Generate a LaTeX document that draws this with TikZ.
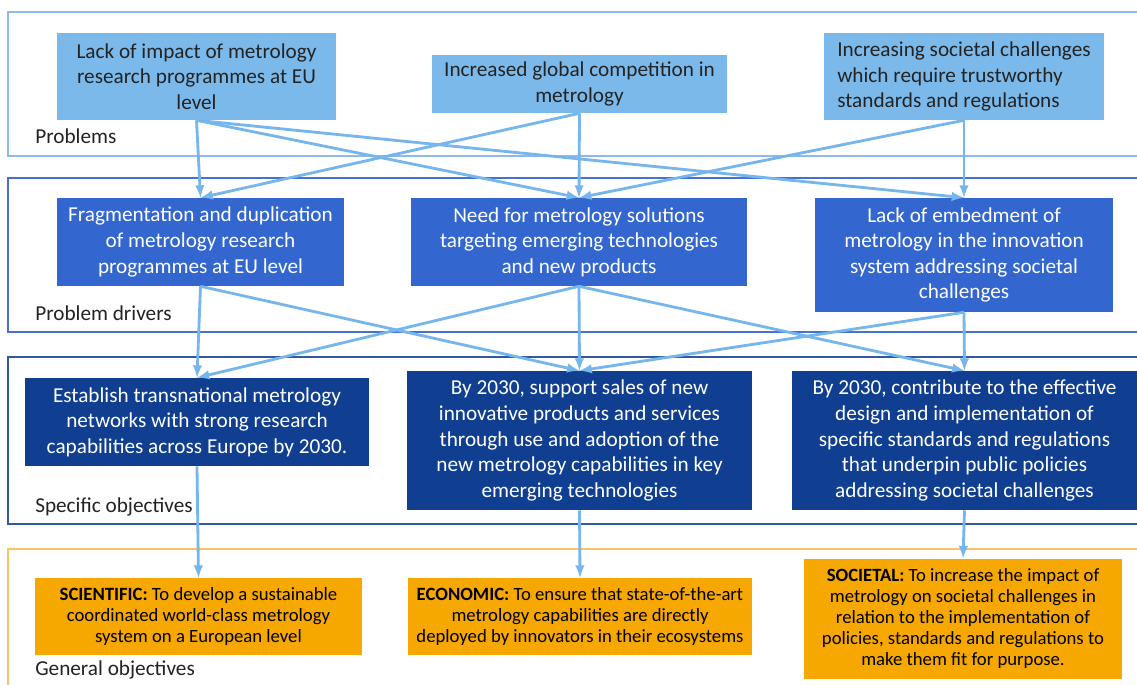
\documentclass[tikz,border=0pt]{standalone}
\usepackage{fontspec}
\setmainfont{Carlito}
\usepackage{tikz}
\definecolor{problemblue}{RGB}{123,185,235}
\definecolor{driverblue}{RGB}{51,102,206}
\definecolor{objblue}{RGB}{16,63,145}
\definecolor{generalorange}{RGB}{246,168,0}
\definecolor{linkblue}{RGB}{118,182,236}
\definecolor{frameproblem}{RGB}{141,186,234}
\definecolor{framedriver}{RGB}{68,114,206}
\definecolor{frameobj}{RGB}{50,88,158}
\definecolor{framegeneral}{RGB}{250,196,100}
\definecolor{darktext}{RGB}{35,35,35}
\newdimen\pxu
\pxu=0.025cm
\newcommand{\boxfont}{\fontsize{15.1}{18.2}\selectfont}
\newcommand{\goalfont}{\fontsize{13.3}{14.9}\selectfont}

\begin{document}
\begin{tikzpicture}[x=0.025cm,y=-0.025cm]
		\tikzstyle{problem}=[rectangle,fill=problemblue,text=darktext,inner sep=0pt,align=center,font=\boxfont]
		\tikzstyle{driver}=[rectangle,fill=driverblue,text=white,inner sep=0pt,align=center,font=\boxfont]
		\tikzstyle{specific}=[rectangle,fill=objblue,text=white,inner sep=0pt,align=center,font=\boxfont]
		\tikzstyle{general}=[rectangle,fill=generalorange,text=black,inner sep=0pt,align=center,font=\goalfont]
		\tikzstyle{level}=[anchor=west,inner sep=0pt,text=darktext,font=\boxfont]
		\tikzstyle{link}=[-latex,line width=2pt,draw=linkblue]
		\useasboundingbox (0,0) rectangle (1137,684);
		\fill[white] (0,0) rectangle (1137,684);
		
		% frames
		\draw[frameproblem,line width=0.8pt] (8,12) rectangle (1150,156);
		\draw[framedriver,line width=0.8pt] (8,178) rectangle (1150,332);
		\draw[frameobj,line width=0.8pt] (8,357) rectangle (1150,524);
		\draw[framegeneral,line width=0.8pt] (8,549) rectangle (1150,700);
		\node[level] (L1) at (35,136){Problems};
		\node[level] (L2) at (35,313){Problem drivers};
		\node[level] (L3) at (35,507){Specific objectives};
		\node[level] (L4) at (35,670){General objectives};
		
		% problems
		\node[problem,minimum width=279\pxu,minimum height=87\pxu] (P1) at (196.5,76.5){Lack of impact of metrology\\research programmes at EU\\level};
		\node[problem,minimum width=295\pxu,minimum height=58\pxu] (P2) at (579.5,84){Increased global competition in\\metrology};
		\node[problem,align=left,minimum width=280\pxu,minimum height=87\pxu] (P3) at (964,76.5){Increasing societal challenges\\which require trustworthy\\standards and regulations};
		
		% problem drivers
		\node[driver,minimum width=287\pxu,minimum height=88\pxu] (D1) at (200.5,242){Fragmentation and duplication\\of metrology research\\programmes at EU level};
		\node[driver,minimum width=336\pxu,minimum height=88\pxu] (D2) at (579,242){Need for metrology solutions\\targeting emerging technologies\\and new products};
		\node[driver,minimum width=298\pxu,minimum height=114\pxu] (D3) at (964,255){Lack of embedment of\\metrology in the innovation\\system addressing societal\\challenges};
		
		% specific objectives
		\node[specific,minimum width=344\pxu,minimum height=88\pxu] (S1) at (197,422){Establish transnational metrology\\networks with strong research\\capabilities across Europe by 2030.};
		\node[specific,minimum width=345\pxu,minimum height=139\pxu] (S2) at (579.5,440.5){By 2030, support sales of new\\innovative products and services\\through use and adoption of the\\new metrology capabilities in key\\emerging technologies};
		\node[specific,minimum width=345\pxu,minimum height=139\pxu] (S3) at (964.5,440.5){By 2030, contribute to the effective\\design and implementation of\\specific standards and regulations\\that underpin public policies\\addressing societal challenges};
		
		% general objectives
		\node[general,minimum width=327\pxu,minimum height=77\pxu] (G1) at (198.5,616.5){\textbf{SCIENTIFIC:} To develop a sustainable\\coordinated world-class metrology\\system on a European level};
		\node[general,minimum width=344\pxu,minimum height=77\pxu] (G2) at (580,616.5){\textbf{ECONOMIC:} To ensure that state-of-the-art\\metrology capabilities are directly\\deployed by innovators in their ecosystems};
		\node[general,minimum width=318\pxu,minimum height=120\pxu] (G3) at (963,618.5){\textbf{SOCIETAL:} To increase the impact of\\metrology on societal challenges in\\relation to the implementation of\\policies, standards and regulations to\\make them fit for purpose.};
		
		\draw[link](P1.south)--(D1.north);
		\draw[link](P1.south)--(D2.north);
		\draw[link](P1.south)--(D3.north);
		\draw[link](P2.south)--(D1.north);
		\draw[link](P2.south)--(D2.north);
		\draw[link](P3.south)--(D2.north);
		\draw[link](P3.south)--(D3.north);
		
		\draw[link](D1.south)--(S1.north);
		\draw[link](D1.south)--(S2.north);
		\draw[link](D2.south)--(S1.north);
		\draw[link](D2.south)--(S2.north);
		\draw[link](D2.south)--(S3.north);
		\draw[link](D3.south)--(S2.north);
		\draw[link](D3.south)--(S3.north);
		
		\draw[link](S1.south)--(G1.north);
		\draw[link](S2.south)--(G2.north);
		\draw[link](S3.south)--(G3.north);
		
	\end{tikzpicture}
\end{document}
